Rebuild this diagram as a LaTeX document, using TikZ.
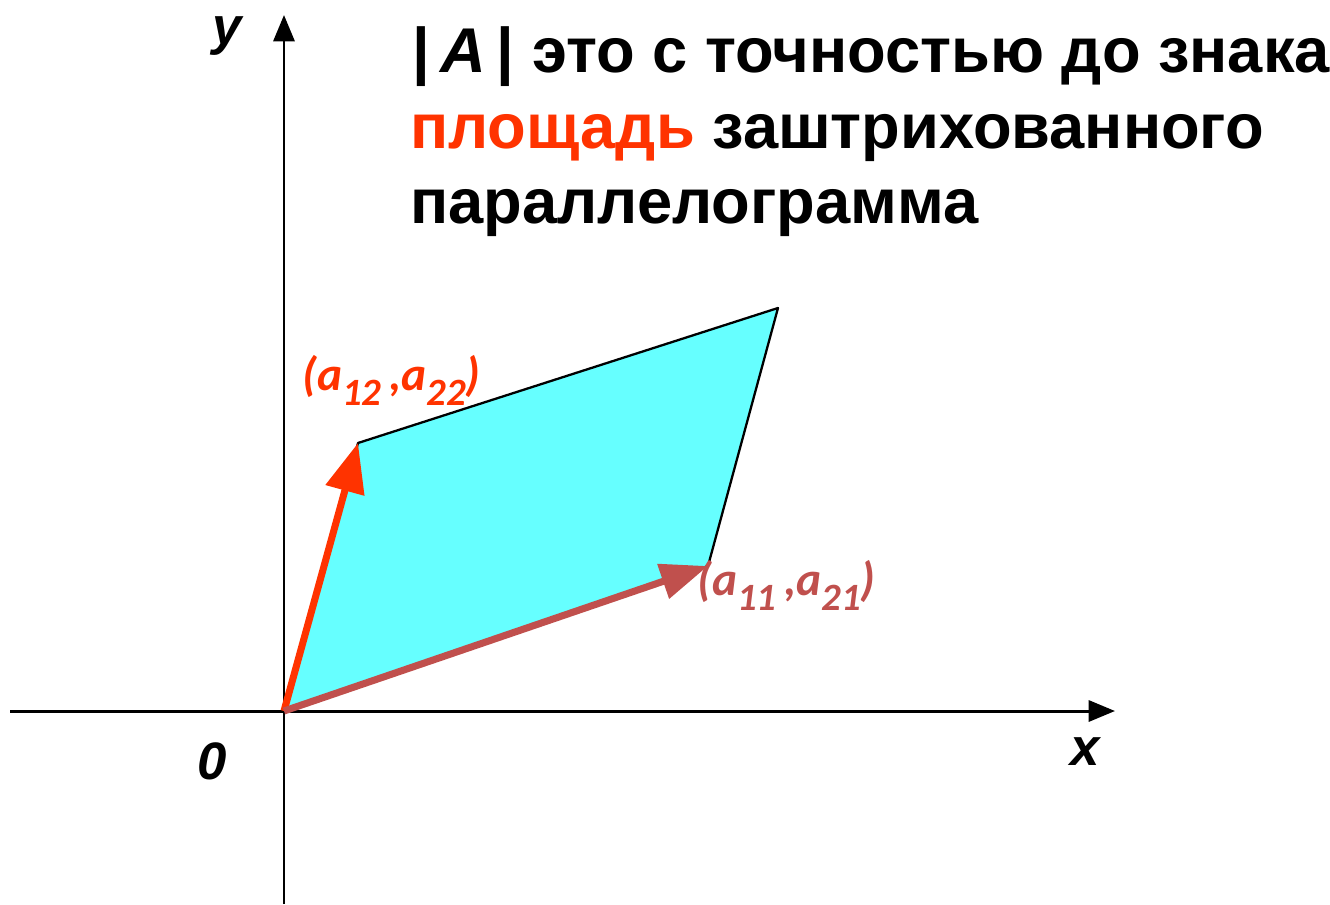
\documentclass[tikz,border=0pt]{standalone}
\usepackage{fontspec}
\setmainfont{Liberation Sans}
\newfontfamily\calfont{Carlito}
\usetikzlibrary{arrows.meta}
\definecolor{orangered}{HTML}{FF3300}
\definecolor{brickred}{HTML}{C0504D}
\definecolor{aqua}{HTML}{66FFFF}
\newcommand{\idx}[1]{\raisebox{-9pt}{\fontsize{22}{22}\selectfont #1}}

\begin{document}
\begin{tikzpicture}[x=0.02cm, y=-0.02cm, line join=round, inner sep=0pt]
\useasboundingbox (0,0) rectangle (1330,904);
\coordinate (O) at (284,711);
\coordinate (A) at (708,566);
\coordinate (C) at (778,308);
\coordinate (B) at (358,443);
\coordinate (XL) at (10,711);
\coordinate (XR) at (1115,711);
\coordinate (YB) at (284,904);
\coordinate (YT) at (284,15);
\fill[aqua] (O) -- (A) -- (C) -- (B) -- cycle;
\draw[line width=1.3pt] (O) -- (A) -- (C) -- (B) -- cycle;
\draw[line width=1.7pt, -{Triangle[length=15pt, width=12pt]}] (XL) -- (XR);
\draw[line width=1.7pt, -{Triangle[length=15pt, width=12pt]}] (YB) -- (YT);
\draw[line width=4pt, orangered, -{Triangle[length=28pt, width=22pt]}] (O) -- (B);
\draw[line width=4pt, brickred, -{Triangle[length=27pt, width=20pt]}] (O) -- (A);
\node[anchor=base west, font=\fontsize{30}{30}\selectfont\bfseries\itshape] (ylab) at (212,44) {y};
\node[anchor=base west, font=\fontsize{30}{30}\selectfont\bfseries\itshape] (xlab) at (1070,765) {x};
\node[anchor=base west, font=\fontsize{30}{30}\selectfont\bfseries\itshape] (zero) at (197,779) {0};
\node[anchor=base west, orangered, font=\calfont\fontsize{27}{27}\selectfont\bfseries\itshape] (lblB) at (302,390) {(a\idx{12}\,,a\idx{22})};
\node[anchor=base west, brickred, font=\calfont\fontsize{27}{27}\selectfont\bfseries\itshape] (lblA) at (697,595) {(a\idx{11}\,,a\idx{21})};
\node[anchor=base west, font=\fontsize{36}{36}\selectfont\bfseries] (line1) at (412,72) {|\,\textit{A}\,| это с точностью до знака};
\node[anchor=base west, font=\fontsize{36}{36}\selectfont\bfseries] (line2) at (410,148) {\textcolor{orangered}{площадь} заштрихованного};
\node[anchor=base west, font=\fontsize{36}{36}\selectfont\bfseries] (line3) at (410,223) {параллелограмма};
\end{tikzpicture}
\end{document}
